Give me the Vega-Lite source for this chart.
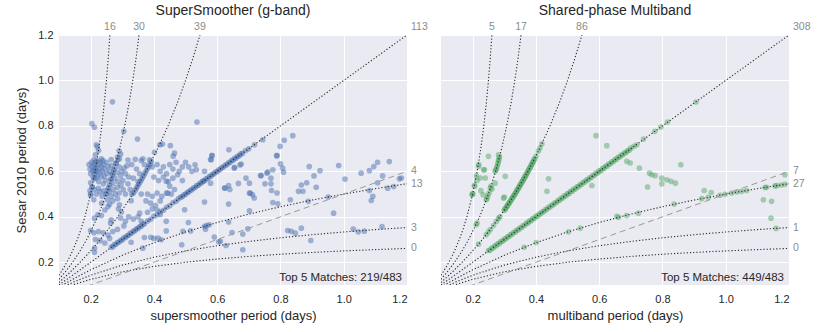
{
"$schema": "https://vega.github.io/schema/vega-lite/v6.json",
"padding": {"left": 15, "top": 4, "right": 5, "bottom": 5},
"spacing": 34,
"bounds": "flush",
"config": {
  "font": "Liberation Sans",
  "view": {"fill": "#EAEAF2", "stroke": null},
  "axis": {"grid": true, "gridColor": "#FFFFFF", "gridWidth": 1, "domain": false, "ticks": false, "tickSize": 0,
           "labelFontSize": 11, "labelColor": "#262626", "titleFontSize": 13, "titleColor": "#262626", "titleFontWeight": "normal",
           "labelFont": "Liberation Sans", "titleFont": "Liberation Sans"},
  "axisX": {"labelPadding": 8, "titlePadding": 5},
  "axisY": {"labelPadding": 6, "titlePadding": 9},
  "title": {"fontSize": 14, "fontWeight": "normal", "color": "#262626", "offset": 0, "font": "Liberation Sans"}
},
"datasets": {
"curves": [
{"c":"a","x":0.1,"y":0.1429},{"c":"a","x":0.11,"y":0.1642},{"c":"a","x":0.125,"y":0.2},{"c":"a","x":0.14,"y":0.2414},{"c":"a","x":0.1579,"y":0.3},{"c":"a","x":0.17,"y":0.3469},{"c":"a","x":0.1818,"y":0.4},{"c":"a","x":0.2,"y":0.5},{"c":"a","x":0.2143,"y":0.6},{"c":"a","x":0.2258,"y":0.7},{"c":"a","x":0.2353,"y":0.8},{"c":"a","x":0.2432,"y":0.9},{"c":"a","x":0.25,"y":1.0},{"c":"a","x":0.2558,"y":1.1},{"c":"a","x":0.2609,"y":1.2},
{"c":"b","x":0.1,"y":0.125},{"c":"b","x":0.12,"y":0.1579},{"c":"b","x":0.1429,"y":0.2},{"c":"b","x":0.165,"y":0.2463},{"c":"b","x":0.1875,"y":0.3},{"c":"b","x":0.2222,"y":0.4},{"c":"b","x":0.25,"y":0.5},{"c":"b","x":0.2727,"y":0.6},{"c":"b","x":0.2917,"y":0.7},{"c":"b","x":0.3077,"y":0.8},{"c":"b","x":0.3214,"y":0.9},{"c":"b","x":0.3333,"y":1.0},{"c":"b","x":0.3438,"y":1.1},{"c":"b","x":0.3529,"y":1.2},
{"c":"c","x":0.1,"y":0.1111},{"c":"c","x":0.13,"y":0.1494},{"c":"c","x":0.1667,"y":0.2},{"c":"c","x":0.2,"y":0.25},{"c":"c","x":0.2308,"y":0.3},{"c":"c","x":0.2857,"y":0.4},{"c":"c","x":0.3333,"y":0.5},{"c":"c","x":0.375,"y":0.6},{"c":"c","x":0.4118,"y":0.7},{"c":"c","x":0.4444,"y":0.8},{"c":"c","x":0.4737,"y":0.9},{"c":"c","x":0.5,"y":1.0},{"c":"c","x":0.5238,"y":1.1},{"c":"c","x":0.5455,"y":1.2},
{"c":"d","x":0.1,"y":0.1},{"c":"d","x":1.2,"y":1.2},
{"c":"e","x":0.1,"y":0.0909},{"c":"e","x":0.15,"y":0.1304},{"c":"e","x":0.2,"y":0.1667},{"c":"e","x":0.3,"y":0.2308},{"c":"e","x":0.4,"y":0.2857},{"c":"e","x":0.5,"y":0.3333},{"c":"e","x":0.6,"y":0.375},{"c":"e","x":0.7,"y":0.4118},{"c":"e","x":0.8,"y":0.4444},{"c":"e","x":0.9,"y":0.4737},{"c":"e","x":1.0,"y":0.5},{"c":"e","x":1.1,"y":0.5238},{"c":"e","x":1.2,"y":0.5455},
{"c":"f","x":0.1,"y":0.0833},{"c":"f","x":0.15,"y":0.1154},{"c":"f","x":0.2,"y":0.1429},{"c":"f","x":0.3,"y":0.1875},{"c":"f","x":0.4,"y":0.2222},{"c":"f","x":0.5,"y":0.25},{"c":"f","x":0.6,"y":0.2727},{"c":"f","x":0.7,"y":0.2917},{"c":"f","x":0.8,"y":0.3077},{"c":"f","x":0.9,"y":0.3214},{"c":"f","x":1.0,"y":0.3333},{"c":"f","x":1.1,"y":0.3438},{"c":"f","x":1.2,"y":0.3529},
{"c":"g","x":0.1,"y":0.0769},{"c":"g","x":0.15,"y":0.1034},{"c":"g","x":0.2,"y":0.125},{"c":"g","x":0.3,"y":0.1579},{"c":"g","x":0.4,"y":0.1818},{"c":"g","x":0.5,"y":0.2},{"c":"g","x":0.6,"y":0.2143},{"c":"g","x":0.7,"y":0.2258},{"c":"g","x":0.8,"y":0.2353},{"c":"g","x":0.9,"y":0.2432},{"c":"g","x":1.0,"y":0.25},{"c":"g","x":1.1,"y":0.2558},{"c":"g","x":1.2,"y":0.2609},
{"c":"h","x":0.1,"y":0.05},{"c":"h","x":1.2,"y":0.6}
],
"lab": [
{"p":"ss","pos":"top","x":0.2609,"y":1.2,"t":"16"},{"p":"ss","pos":"top","x":0.3529,"y":1.2,"t":"30"},{"p":"ss","pos":"top","x":0.5455,"y":1.2,"t":"39"},{"p":"ss","pos":"corner","x":1.2,"y":1.2,"t":"113"},
{"p":"ss","pos":"right","x":1.2,"y":0.6,"t":"4"},{"p":"ss","pos":"right","x":1.2,"y":0.5455,"t":"13"},{"p":"ss","pos":"right","x":1.2,"y":0.3529,"t":"3"},{"p":"ss","pos":"right","x":1.2,"y":0.2609,"t":"0"},
{"p":"ss","pos":"note","x":1.184,"y":0.118,"t":"Top 5 Matches: 219/483"},
{"p":"mb","pos":"top","x":0.2609,"y":1.2,"t":"5"},{"p":"mb","pos":"top","x":0.3529,"y":1.2,"t":"17"},{"p":"mb","pos":"top","x":0.5455,"y":1.2,"t":"86"},{"p":"mb","pos":"corner","x":1.2,"y":1.2,"t":"308"},
{"p":"mb","pos":"right","x":1.2,"y":0.6,"t":"7"},{"p":"mb","pos":"right","x":1.2,"y":0.5455,"t":"27"},{"p":"mb","pos":"right","x":1.2,"y":0.3529,"t":"1"},{"p":"mb","pos":"right","x":1.2,"y":0.2609,"t":"0"},
{"p":"mb","pos":"note","x":1.184,"y":0.118,"t":"Top 5 Matches: 449/483"}
],
"ss": [
{"x":0.269,"y":0.906},{"x":0.204,"y":0.81},{"x":0.212,"y":0.794},{"x":0.218,"y":0.717},{"x":0.221,"y":0.708},{"x":0.305,"y":0.776},{"x":0.348,"y":0.742},{"x":0.536,"y":0.817},{"x":0.402,"y":0.684},{"x":0.419,"y":0.717},{"x":0.427,"y":0.72},{"x":0.452,"y":0.713},{"x":0.465,"y":0.68},{"x":0.461,"y":0.667},{"x":0.583,"y":0.669},{"x":0.579,"y":0.652},{"x":0.637,"y":0.695},{"x":0.812,"y":0.737},{"x":0.839,"y":0.757},{"x":0.799,"y":0.71},{"x":0.788,"y":0.669},{"x":1.107,"y":0.64},{"x":1.144,"y":0.643},{"x":0.215,"y":0.673},{"x":0.295,"y":0.676},{"x":0.744,"y":0.739},
{"x":0.21,"y":0.651},{"x":0.234,"y":0.655},{"x":0.239,"y":0.648},{"x":0.265,"y":0.652},{"x":0.286,"y":0.65},{"x":0.291,"y":0.656},{"x":0.318,"y":0.65},{"x":0.341,"y":0.653},{"x":0.36,"y":0.648},{"x":0.365,"y":0.655},{"x":0.386,"y":0.651},{"x":0.392,"y":0.645},
{"x":0.195,"y":0.63},{"x":0.198,"y":0.61},{"x":0.2,"y":0.59},{"x":0.203,"y":0.64},{"x":0.205,"y":0.62},{"x":0.207,"y":0.6},{"x":0.208,"y":0.575},{"x":0.21,"y":0.63},{"x":0.212,"y":0.61},{"x":0.214,"y":0.59},{"x":0.215,"y":0.64},{"x":0.216,"y":0.57},{"x":0.218,"y":0.62},{"x":0.22,"y":0.6},{"x":0.222,"y":0.58},{"x":0.224,"y":0.635},{"x":0.225,"y":0.555},{"x":0.227,"y":0.615},{"x":0.229,"y":0.595},{"x":0.231,"y":0.64},{"x":0.233,"y":0.575},{"x":0.235,"y":0.62},{"x":0.237,"y":0.6},{"x":0.24,"y":0.545},{"x":0.241,"y":0.63},{"x":0.243,"y":0.58},{"x":0.245,"y":0.61},{"x":0.247,"y":0.56},{"x":0.25,"y":0.64},{"x":0.252,"y":0.59},{"x":0.255,"y":0.62},{"x":0.257,"y":0.53},{"x":0.26,"y":0.6},{"x":0.262,"y":0.565},{"x":0.265,"y":0.625},{"x":0.268,"y":0.585},{"x":0.27,"y":0.545},{"x":0.273,"y":0.605},{"x":0.276,"y":0.57},{"x":0.28,"y":0.635},{"x":0.283,"y":0.595},{"x":0.286,"y":0.555},{"x":0.29,"y":0.62},{"x":0.294,"y":0.58},{"x":0.298,"y":0.6},{"x":0.302,"y":0.56},{"x":0.306,"y":0.615},{"x":0.31,"y":0.59},{"x":0.315,"y":0.625},{"x":0.32,"y":0.575},
{"x":0.2,"y":0.55},{"x":0.205,"y":0.53},{"x":0.198,"y":0.515},{"x":0.212,"y":0.52},{"x":0.218,"y":0.5},{"x":0.225,"y":0.525},{"x":0.23,"y":0.51},{"x":0.236,"y":0.49},{"x":0.242,"y":0.515},{"x":0.248,"y":0.5},{"x":0.253,"y":0.475},{"x":0.26,"y":0.51},{"x":0.265,"y":0.49},{"x":0.272,"y":0.52},{"x":0.278,"y":0.5},{"x":0.285,"y":0.53},{"x":0.29,"y":0.505},{"x":0.296,"y":0.54},{"x":0.303,"y":0.52},{"x":0.31,"y":0.5},{"x":0.318,"y":0.545},{"x":0.325,"y":0.52},{"x":0.2,"y":0.495},{"x":0.21,"y":0.475},{"x":0.235,"y":0.46},{"x":0.26,"y":0.455},{"x":0.27,"y":0.47},{"x":0.285,"y":0.48},
{"x":0.2,"y":0.5},{"x":0.205,"y":0.532},{"x":0.21,"y":0.567},{"x":0.215,"y":0.605},{"x":0.22,"y":0.647},{"x":0.225,"y":0.692},
{"x":0.25,"y":0.5},{"x":0.255,"y":0.52},{"x":0.26,"y":0.542},{"x":0.265,"y":0.564},{"x":0.27,"y":0.587},{"x":0.275,"y":0.611},{"x":0.28,"y":0.636},{"x":0.285,"y":0.663},{"x":0.29,"y":0.69},
{"x":0.335,"y":0.5038},{"x":0.34,"y":0.5152},{"x":0.344,"y":0.5244},{"x":0.348,"y":0.5337},{"x":0.352,"y":0.5432},{"x":0.356,"y":0.5528},{"x":0.36,"y":0.5625},{"x":0.364,"y":0.5723},{"x":0.368,"y":0.5823},{"x":0.372,"y":0.5924},{"x":0.376,"y":0.6026},{"x":0.38,"y":0.6129},{"x":0.384,"y":0.6234},{"x":0.388,"y":0.634},
{"x":0.265,"y":0.267},{"x":0.27,"y":0.268},{"x":0.275,"y":0.278},{"x":0.28,"y":0.279},{"x":0.285,"y":0.287},{"x":0.29,"y":0.289},{"x":0.295,"y":0.297},{"x":0.3,"y":0.298},{"x":0.305,"y":0.308},{"x":0.31,"y":0.309},{"x":0.315,"y":0.316},{"x":0.32,"y":0.319},{"x":0.325,"y":0.327},{"x":0.33,"y":0.329},{"x":0.335,"y":0.337},{"x":0.34,"y":0.339},{"x":0.345,"y":0.347},{"x":0.35,"y":0.349},{"x":0.355,"y":0.357},{"x":0.36,"y":0.359},{"x":0.365,"y":0.367},{"x":0.37,"y":0.369},
{"x":0.38,"y":0.382},{"x":0.39,"y":0.389},{"x":0.4,"y":0.403},{"x":0.41,"y":0.409},{"x":0.42,"y":0.422},{"x":0.43,"y":0.429},{"x":0.44,"y":0.442},{"x":0.45,"y":0.449},{"x":0.46,"y":0.462},{"x":0.47,"y":0.469},{"x":0.478,"y":0.48},
{"x":0.485,"y":0.487},{"x":0.49,"y":0.489},{"x":0.495,"y":0.497},{"x":0.5,"y":0.499},{"x":0.505,"y":0.507},{"x":0.51,"y":0.509},{"x":0.515,"y":0.517},{"x":0.52,"y":0.519},{"x":0.525,"y":0.527},{"x":0.53,"y":0.529},{"x":0.535,"y":0.537},{"x":0.54,"y":0.539},{"x":0.545,"y":0.547},{"x":0.55,"y":0.549},{"x":0.555,"y":0.557},{"x":0.56,"y":0.559},{"x":0.565,"y":0.567},{"x":0.57,"y":0.569},{"x":0.575,"y":0.577},{"x":0.58,"y":0.579},{"x":0.585,"y":0.587},{"x":0.59,"y":0.589},{"x":0.595,"y":0.597},{"x":0.6,"y":0.599},{"x":0.605,"y":0.607},{"x":0.61,"y":0.609},{"x":0.615,"y":0.617},{"x":0.62,"y":0.619},{"x":0.625,"y":0.627},{"x":0.63,"y":0.629},{"x":0.635,"y":0.637},{"x":0.64,"y":0.639},{"x":0.645,"y":0.647},{"x":0.65,"y":0.649},{"x":0.655,"y":0.657},{"x":0.66,"y":0.659},{"x":0.665,"y":0.667},{"x":0.67,"y":0.669},{"x":0.675,"y":0.677},{"x":0.68,"y":0.679},{"x":0.69,"y":0.692},{"x":0.7,"y":0.699},{"x":0.718,"y":0.717},
{"x":0.33,"y":0.63},{"x":0.345,"y":0.61},{"x":0.355,"y":0.59},{"x":0.37,"y":0.63},{"x":0.395,"y":0.62},{"x":0.41,"y":0.63},{"x":0.42,"y":0.6},{"x":0.43,"y":0.62},{"x":0.44,"y":0.59},{"x":0.45,"y":0.63},{"x":0.46,"y":0.61},{"x":0.47,"y":0.64},{"x":0.48,"y":0.6},{"x":0.49,"y":0.62},{"x":0.5,"y":0.64},{"x":0.51,"y":0.62},{"x":0.52,"y":0.6},{"x":0.335,"y":0.57},{"x":0.35,"y":0.555},{"x":0.4,"y":0.575},{"x":0.415,"y":0.56},{"x":0.43,"y":0.575},{"x":0.445,"y":0.555},{"x":0.46,"y":0.57},{"x":0.475,"y":0.585},{"x":0.49,"y":0.56},{"x":0.56,"y":0.6},{"x":0.555,"y":0.556},{"x":0.579,"y":0.548},{"x":0.53,"y":0.629},{"x":0.534,"y":0.607},{"x":0.581,"y":0.651},{"x":0.584,"y":0.67},{"x":0.676,"y":0.632},{"x":0.655,"y":0.618},{"x":0.691,"y":0.57},{"x":0.702,"y":0.548},{"x":0.737,"y":0.582},{"x":0.76,"y":0.597},{"x":0.625,"y":0.526},{"x":0.636,"y":0.538},{"x":0.667,"y":0.547},{"x":0.702,"y":0.504},{"x":0.439,"y":0.556},{"x":0.45,"y":0.535},{"x":0.465,"y":0.52},{"x":0.33,"y":0.5},{"x":0.36,"y":0.5},{"x":0.38,"y":0.5},{"x":0.395,"y":0.49},{"x":0.41,"y":0.505},{"x":0.425,"y":0.49},{"x":0.44,"y":0.504},{"x":0.455,"y":0.5},{"x":0.375,"y":0.47},{"x":0.39,"y":0.46},{"x":0.405,"y":0.45},{"x":0.42,"y":0.47},
{"x":0.291,"y":0.453},{"x":0.288,"y":0.435},{"x":0.297,"y":0.421},{"x":0.328,"y":0.471},{"x":0.355,"y":0.416},{"x":0.212,"y":0.394},{"x":0.223,"y":0.409},{"x":0.234,"y":0.406},{"x":0.265,"y":0.387},{"x":0.263,"y":0.372},{"x":0.212,"y":0.262},{"x":0.212,"y":0.244},{"x":0.365,"y":0.262},{"x":0.328,"y":0.288},{"x":0.37,"y":0.309},{"x":0.39,"y":0.31},{"x":0.4,"y":0.305},{"x":0.413,"y":0.306},{"x":0.2,"y":0.34},{"x":0.21,"y":0.33},{"x":0.225,"y":0.335},{"x":0.24,"y":0.33},{"x":0.255,"y":0.32},{"x":0.27,"y":0.335},{"x":0.285,"y":0.345},{"x":0.215,"y":0.3},{"x":0.23,"y":0.295},{"x":0.245,"y":0.285},{"x":0.26,"y":0.305},{"x":0.335,"y":0.39},{"x":0.35,"y":0.4},{"x":0.36,"y":0.38},{"x":0.32,"y":0.4},{"x":0.31,"y":0.38},{"x":0.38,"y":0.42},{"x":0.395,"y":0.435},{"x":0.41,"y":0.43},{"x":0.42,"y":0.41},{"x":0.295,"y":0.395},{"x":0.305,"y":0.36},{"x":0.245,"y":0.43},{"x":0.255,"y":0.445},
{"x":0.439,"y":0.38},{"x":0.439,"y":0.338},{"x":0.509,"y":0.375},{"x":0.492,"y":0.336},{"x":0.516,"y":0.338},{"x":0.56,"y":0.358},{"x":0.567,"y":0.362},{"x":0.575,"y":0.365},{"x":0.563,"y":0.345},{"x":0.488,"y":0.277},{"x":0.56,"y":0.465},{"x":0.497,"y":0.431},{"x":0.636,"y":0.456},{"x":0.636,"y":0.377},{"x":0.591,"y":0.311},{"x":0.61,"y":0.292},{"x":0.628,"y":0.274},{"x":0.647,"y":0.331},{"x":0.681,"y":0.324},{"x":0.697,"y":0.347},{"x":0.681,"y":0.255},{"x":0.702,"y":0.426},{"x":0.705,"y":0.504},{"x":0.423,"y":0.299},{"x":0.64,"y":0.52},{"x":0.444,"y":0.504},{"x":0.605,"y":0.29},
{"x":0.789,"y":0.669},{"x":0.8,"y":0.633},{"x":0.807,"y":0.614},{"x":0.81,"y":0.596},{"x":0.776,"y":0.607},{"x":0.757,"y":0.592},{"x":0.739,"y":0.581},{"x":0.77,"y":0.57},{"x":0.751,"y":0.545},{"x":0.77,"y":0.545},{"x":0.772,"y":0.516},{"x":0.789,"y":0.505},{"x":0.776,"y":0.463},{"x":0.792,"y":0.457},{"x":0.654,"y":0.614},{"x":0.672,"y":0.628},{"x":0.623,"y":0.527},{"x":0.712,"y":0.497},{"x":0.717,"y":0.483},{"x":0.891,"y":0.621},{"x":0.906,"y":0.58},{"x":0.925,"y":0.603},{"x":0.913,"y":0.53},{"x":0.857,"y":0.512},{"x":0.871,"y":0.512},{"x":0.866,"y":0.54},{"x":0.883,"y":0.55},{"x":0.831,"y":0.475},{"x":0.888,"y":0.468},{"x":0.951,"y":0.487},{"x":0.968,"y":0.416},{"x":0.984,"y":0.626},{"x":1.004,"y":0.566},{"x":1.055,"y":0.592},{"x":1.081,"y":0.603},{"x":1.095,"y":0.621},{"x":1.123,"y":0.58},{"x":1.107,"y":0.55},{"x":1.139,"y":0.526},{"x":1.158,"y":0.533},{"x":1.176,"y":0.567},{"x":1.182,"y":0.571},{"x":1.081,"y":0.516},{"x":1.092,"y":0.49},{"x":1.087,"y":0.472},{"x":0.823,"y":0.34},{"x":0.834,"y":0.336},{"x":0.847,"y":0.328},{"x":0.866,"y":0.35},{"x":0.896,"y":0.296},{"x":1.03,"y":0.346},{"x":1.046,"y":0.334},{"x":1.065,"y":0.337},{"x":1.121,"y":0.357}
],
"mb": [
{"x":0.25,"y":0.252},{"x":0.255,"y":0.253},{"x":0.26,"y":0.262},{"x":0.265,"y":0.263},{"x":0.27,"y":0.272},{"x":0.275,"y":0.273},{"x":0.28,"y":0.282},{"x":0.285,"y":0.283},{"x":0.29,"y":0.292},{"x":0.295,"y":0.293},{"x":0.3,"y":0.302},{"x":0.305,"y":0.303},{"x":0.31,"y":0.312},{"x":0.315,"y":0.313},{"x":0.32,"y":0.322},{"x":0.325,"y":0.323},{"x":0.33,"y":0.332},{"x":0.335,"y":0.333},{"x":0.34,"y":0.342},{"x":0.345,"y":0.343},{"x":0.35,"y":0.352},{"x":0.355,"y":0.353},{"x":0.36,"y":0.362},{"x":0.365,"y":0.363},{"x":0.37,"y":0.372},{"x":0.375,"y":0.373},{"x":0.38,"y":0.382},{"x":0.385,"y":0.383},{"x":0.39,"y":0.392},{"x":0.395,"y":0.393},{"x":0.4,"y":0.402},{"x":0.405,"y":0.403},{"x":0.41,"y":0.412},{"x":0.415,"y":0.413},{"x":0.42,"y":0.422},{"x":0.425,"y":0.423},{"x":0.43,"y":0.432},{"x":0.435,"y":0.433},{"x":0.44,"y":0.442},{"x":0.445,"y":0.443},{"x":0.45,"y":0.452},{"x":0.455,"y":0.453},{"x":0.46,"y":0.462},{"x":0.465,"y":0.463},{"x":0.47,"y":0.472},{"x":0.475,"y":0.473},{"x":0.48,"y":0.482},{"x":0.485,"y":0.483},{"x":0.49,"y":0.492},{"x":0.495,"y":0.493},{"x":0.5,"y":0.502},{"x":0.505,"y":0.503},{"x":0.51,"y":0.512},{"x":0.515,"y":0.513},{"x":0.52,"y":0.522},{"x":0.525,"y":0.523},{"x":0.53,"y":0.532},{"x":0.535,"y":0.533},{"x":0.54,"y":0.542},{"x":0.545,"y":0.543},{"x":0.55,"y":0.552},{"x":0.555,"y":0.553},{"x":0.56,"y":0.562},{"x":0.565,"y":0.563},{"x":0.57,"y":0.572},{"x":0.575,"y":0.573},{"x":0.58,"y":0.582},{"x":0.585,"y":0.583},{"x":0.59,"y":0.592},{"x":0.595,"y":0.593},{"x":0.6,"y":0.602},{"x":0.605,"y":0.603},{"x":0.61,"y":0.612},{"x":0.615,"y":0.613},{"x":0.62,"y":0.622},{"x":0.625,"y":0.623},{"x":0.63,"y":0.632},{"x":0.635,"y":0.633},{"x":0.64,"y":0.642},{"x":0.645,"y":0.643},{"x":0.65,"y":0.652},{"x":0.655,"y":0.653},{"x":0.66,"y":0.662},{"x":0.665,"y":0.663},{"x":0.67,"y":0.672},{"x":0.675,"y":0.673},{"x":0.68,"y":0.682},{"x":0.685,"y":0.683},{"x":0.69,"y":0.692},{"x":0.695,"y":0.693},{"x":0.7,"y":0.702},{"x":0.71,"y":0.71},{"x":0.719,"y":0.717},{"x":0.74,"y":0.742},{"x":0.776,"y":0.776},{"x":0.795,"y":0.795},{"x":0.816,"y":0.817},{"x":0.906,"y":0.905},
{"x":0.3,"y":0.4286},{"x":0.302,"y":0.4327},{"x":0.304,"y":0.4368},{"x":0.306,"y":0.4409},{"x":0.308,"y":0.4451},{"x":0.31,"y":0.4493},{"x":0.312,"y":0.4535},{"x":0.314,"y":0.4577},{"x":0.316,"y":0.462},{"x":0.318,"y":0.4663},{"x":0.32,"y":0.4706},{"x":0.322,"y":0.4749},{"x":0.324,"y":0.4793},{"x":0.326,"y":0.4837},{"x":0.328,"y":0.4881},{"x":0.33,"y":0.4925},{"x":0.332,"y":0.497},{"x":0.334,"y":0.5015},{"x":0.336,"y":0.506},{"x":0.338,"y":0.5106},{"x":0.34,"y":0.5152},{"x":0.342,"y":0.5198},{"x":0.344,"y":0.5244},{"x":0.346,"y":0.5291},{"x":0.348,"y":0.5337},{"x":0.35,"y":0.5385},{"x":0.352,"y":0.5432},{"x":0.354,"y":0.548},{"x":0.356,"y":0.5528},{"x":0.358,"y":0.5576},{"x":0.36,"y":0.5625},{"x":0.362,"y":0.5674},{"x":0.364,"y":0.5723},{"x":0.366,"y":0.5773},{"x":0.368,"y":0.5823},{"x":0.37,"y":0.5873},{"x":0.372,"y":0.5924},{"x":0.374,"y":0.5974},{"x":0.376,"y":0.6026},{"x":0.378,"y":0.6077},{"x":0.38,"y":0.6129},{"x":0.382,"y":0.6181},{"x":0.384,"y":0.6234},{"x":0.386,"y":0.6287},{"x":0.388,"y":0.634},{"x":0.39,"y":0.6393},{"x":0.392,"y":0.6447},{"x":0.394,"y":0.6502},{"x":0.396,"y":0.6556},{"x":0.4,"y":0.6667},{"x":0.408,"y":0.6892},{"x":0.413,"y":0.7036},{"x":0.419,"y":0.7212},
{"x":0.219,"y":0.28},{"x":0.243,"y":0.321},{"x":0.25,"y":0.333},{"x":0.256,"y":0.344},{"x":0.266,"y":0.362},{"x":0.275,"y":0.38},{"x":0.282,"y":0.393},{"x":0.286,"y":0.4},
{"x":0.211,"y":0.365},{"x":0.214,"y":0.372},{"x":0.245,"y":0.48},{"x":0.248,"y":0.492},{"x":0.252,"y":0.505},{"x":0.258,"y":0.535},{"x":0.261,"y":0.522},{"x":0.271,"y":0.6},{"x":0.273,"y":0.605},{"x":0.275,"y":0.611},{"x":0.277,"y":0.62},{"x":0.279,"y":0.63},{"x":0.281,"y":0.64},{"x":0.282,"y":0.648},{"x":0.283,"y":0.655},{"x":0.285,"y":0.663},{"x":0.282,"y":0.673},
{"x":0.2,"y":0.5},{"x":0.206,"y":0.539},{"x":0.212,"y":0.58},{"x":0.219,"y":0.63},
{"x":0.219,"y":0.622},{"x":0.237,"y":0.607},{"x":0.224,"y":0.571},{"x":0.214,"y":0.56},{"x":0.206,"y":0.534},{"x":0.2,"y":0.501},{"x":0.233,"y":0.497},{"x":0.256,"y":0.526},{"x":0.271,"y":0.548},{"x":0.303,"y":0.578},{"x":0.298,"y":0.482},{"x":0.243,"y":0.475},{"x":0.25,"y":0.666},{"x":0.59,"y":0.757},{"x":0.624,"y":0.713},{"x":0.44,"y":0.567},{"x":0.435,"y":0.512},{"x":0.577,"y":0.538},{"x":0.3,"y":0.487},{"x":0.235,"y":0.607},{"x":0.24,"y":0.571},{"x":0.198,"y":0.497},{"x":0.226,"y":0.515},
{"x":0.363,"y":0.266},{"x":0.401,"y":0.287},{"x":0.503,"y":0.334},{"x":0.54,"y":0.35},{"x":0.656,"y":0.402},{"x":0.661,"y":0.398},{"x":0.687,"y":0.406},{"x":0.724,"y":0.416},{"x":0.837,"y":0.456},{"x":0.924,"y":0.48},{"x":0.945,"y":0.486},{"x":0.982,"y":0.495},{"x":0.998,"y":0.499},{"x":1.019,"y":0.505},{"x":1.035,"y":0.509},{"x":1.05,"y":0.512},{"x":1.066,"y":0.516},{"x":1.124,"y":0.529},{"x":1.129,"y":0.53},{"x":1.156,"y":0.536},{"x":1.161,"y":0.537},{"x":1.187,"y":0.543},{"x":1.175,"y":0.54},
{"x":0.932,"y":0.516},{"x":0.954,"y":0.507},{"x":1.187,"y":0.585},{"x":1.119,"y":0.475},{"x":1.145,"y":0.468},{"x":1.143,"y":0.394},{"x":1.159,"y":0.349},{"x":0.687,"y":0.644},{"x":0.698,"y":0.637},{"x":0.727,"y":0.614},{"x":0.759,"y":0.592},{"x":0.766,"y":0.585},{"x":0.777,"y":0.581},{"x":0.798,"y":0.57},{"x":0.814,"y":0.563},{"x":0.827,"y":0.556},{"x":0.841,"y":0.548},{"x":0.798,"y":0.545},{"x":0.753,"y":0.531},{"x":0.858,"y":0.629}
]
},
"hconcat": [
{
  "width": 348, "height": 250,
  "title": {"text": "SuperSmoother (g-band)"},
  "encoding": {
    "x": {"field": "x", "type": "quantitative", "scale": {"domain": [0.1, 1.2], "nice": false, "zero": false},
          "axis": {"values": [0.2, 0.4, 0.6, 0.8, 1.0, 1.2], "format": ".1f", "title": "supersmoother period (days)"}},
    "y": {"field": "y", "type": "quantitative", "scale": {"domain": [0.1, 1.2], "nice": false, "zero": false},
          "axis": {"values": [0.2, 0.4, 0.6, 0.8, 1.0, 1.2], "format": ".1f", "title": "Sesar 2010 period (days)"}}
  },
  "layer": [
    {"data": {"name": "ss"}, "mark": {"type": "circle", "size": 32, "opacity": 0.5, "color": "#4C72B0", "clip": true}},
    {"data": {"name": "curves"}, "transform": [{"filter": "datum.c != 'h'"}],
     "mark": {"type": "line", "clip": true, "color": "#2a2a2a", "strokeWidth": 1.1, "strokeDash": [1.2, 2]},
     "encoding": {"detail": {"field": "c"}}},
    {"data": {"name": "curves"}, "transform": [{"filter": "datum.c == 'h'"}],
     "mark": {"type": "line", "clip": true, "color": "#999999", "strokeWidth": 1, "strokeDash": [6, 4]},
     "encoding": {}},
    {"data": {"name": "lab"}, "transform": [{"filter": "datum.p == 'ss' && datum.pos == 'top'"}],
     "mark": {"type": "text", "align": "center", "baseline": "middle", "dy": -8, "fontSize": 10.5, "color": "#8c8c8c"},
     "encoding": {"text": {"field": "t"}}},
    {"data": {"name": "lab"}, "transform": [{"filter": "datum.p == 'ss' && datum.pos == 'right'"}],
     "mark": {"type": "text", "align": "left", "baseline": "middle", "dx": 4, "fontSize": 10.5, "color": "#8c8c8c"},
     "encoding": {"text": {"field": "t"}}},
    {"data": {"name": "lab"}, "transform": [{"filter": "datum.p == 'ss' && datum.pos == 'corner'"}],
     "mark": {"type": "text", "align": "left", "baseline": "middle", "dx": 4, "dy": -8, "fontSize": 10.5, "color": "#8c8c8c"},
     "encoding": {"text": {"field": "t"}}},
    {"data": {"name": "lab"}, "transform": [{"filter": "datum.p == 'ss' && datum.pos == 'note'"}],
     "mark": {"type": "text", "align": "right", "baseline": "alphabetic", "fontSize": 11.5, "color": "#262626"},
     "encoding": {"text": {"field": "t"}}}
  ]
},
{
  "width": 348, "height": 250,
  "title": {"text": "Shared-phase Multiband"},
  "encoding": {
    "x": {"field": "x", "type": "quantitative", "scale": {"domain": [0.1, 1.2], "nice": false, "zero": false},
          "axis": {"values": [0.2, 0.4, 0.6, 0.8, 1.0, 1.2], "format": ".1f", "title": "multiband period (days)"}},
    "y": {"field": "y", "type": "quantitative", "scale": {"domain": [0.1, 1.2], "nice": false, "zero": false},
          "axis": {"values": [0.2, 0.4, 0.6, 0.8, 1.0, 1.2], "labels": false, "title": null}}
  },
  "layer": [
    {"data": {"name": "mb"}, "mark": {"type": "circle", "size": 32, "opacity": 0.5, "color": "#55A868", "clip": true}},
    {"data": {"name": "curves"}, "transform": [{"filter": "datum.c != 'h'"}],
     "mark": {"type": "line", "clip": true, "color": "#2a2a2a", "strokeWidth": 1.1, "strokeDash": [1.2, 2]},
     "encoding": {"detail": {"field": "c"}}},
    {"data": {"name": "curves"}, "transform": [{"filter": "datum.c == 'h'"}],
     "mark": {"type": "line", "clip": true, "color": "#999999", "strokeWidth": 1, "strokeDash": [6, 4]},
     "encoding": {}},
    {"data": {"name": "lab"}, "transform": [{"filter": "datum.p == 'mb' && datum.pos == 'top'"}],
     "mark": {"type": "text", "align": "center", "baseline": "middle", "dy": -8, "fontSize": 10.5, "color": "#8c8c8c"},
     "encoding": {"text": {"field": "t"}}},
    {"data": {"name": "lab"}, "transform": [{"filter": "datum.p == 'mb' && datum.pos == 'right'"}],
     "mark": {"type": "text", "align": "left", "baseline": "middle", "dx": 4, "fontSize": 10.5, "color": "#8c8c8c"},
     "encoding": {"text": {"field": "t"}}},
    {"data": {"name": "lab"}, "transform": [{"filter": "datum.p == 'mb' && datum.pos == 'corner'"}],
     "mark": {"type": "text", "align": "left", "baseline": "middle", "dx": 4, "dy": -8, "fontSize": 10.5, "color": "#8c8c8c"},
     "encoding": {"text": {"field": "t"}}},
    {"data": {"name": "lab"}, "transform": [{"filter": "datum.p == 'mb' && datum.pos == 'note'"}],
     "mark": {"type": "text", "align": "right", "baseline": "alphabetic", "fontSize": 11.5, "color": "#262626"},
     "encoding": {"text": {"field": "t"}}}
  ]
}
]
}
